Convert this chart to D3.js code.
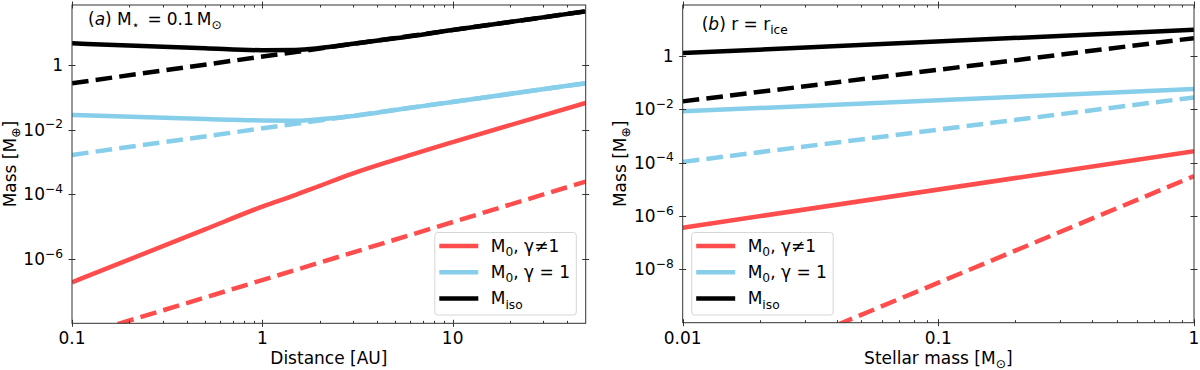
<!DOCTYPE html>
<html>
<head>
<meta charset="utf-8">
<script src="https://cdn.jsdelivr.net/npm/d3@7"></script>
<style>
  body { margin: 0; background: #fff; }
  text { font-family: "DejaVu Sans", sans-serif; fill: #000; }
</style>
</head>
<body>
<div id="chart"></div>
<script>
// ---- panel (a): M* = 0.1 Msun, mass vs distance [AU]
const distCurve = [0.1, 0.5, 1, 1.5, 2, 3, 5, 10, 50];
const distEnds = [0.1, 50];
const aRedSolid = [1.86e-7, 8.1e-6, 4.1e-5, 9.5e-5, 1.8e-4, 4.4e-4, 1.17e-3, 4.1e-3, 6.7e-2];
const aBlueSolid = [0.0284, 0.0211, 0.0191, 0.0187, 0.0209, 0.0263, 0.0406, 0.0718, 0.272];
const aBlackSolid = [4.69, 3.29, 2.87, 2.92, 3.33, 4.56, 6.7, 12.1, 45.7];
const aRedDashed = [3.5e-9, 2.45e-4];
const aBlueDashed = [1.64e-3, 0.27];
const aBlackDashed = [0.272, 45.7];

// ---- panel (b): r = r_ice, mass vs stellar mass [Msun]
const starMass = [0.01, 1];
const bRedSolid = [3.62e-7, 2.64e-4];
const bBlueSolid = [8.28e-3, 0.0569];
const bBlackSolid = [1.26, 9.38];
const bRedDashed = [3.2e-13, 3.1e-5];
const bBlueDashed = [1.06e-4, 0.0276];
const bBlackDashed = [0.0196, 4.59];

// tick values
const aXTicks = [0.1, 1, 10];
const aXTickLabels = ['0.1', '1', '10'];
const bXTicks = [0.01, 0.1, 1];
const bXTickLabels = ['0.01', '0.1', '1'];
const aYTicks = [1e-6, 1e-4, 1e-2, 1];
const bYTicks = [1e-8, 1e-6, 1e-4, 1e-2, 1];

const RED = '#ff4d4d', BLUE = '#87ceeb', BLACK = '#000';
const legendNames = [
  [['M'], ['0', 'sub'], [',  γ≠1']],
  [['M'], ['0', 'sub'], [',  γ = 1']],
  [['M'], ['iso', 'sub']]
];
const legendColors = [RED, BLUE, BLACK];

const FS = 17;
const LW = 4.5;
const W = 1200, H = 370;
const svg = d3.select('#chart').append('svg')
  .attr('width', W).attr('height', H);

// text with sub/superscripts and italics: parts are [string, kind, dx]
function rich(el, parts, size) {
  let cur = 0;
  parts.forEach(([str, kind, dx]) => {
    const off = kind === 'sub' ? size * 0.25 : kind === 'sup' ? -size * 0.42 : 0;
    const t = el.append('tspan').text(str).attr('dy', off - cur);
    if (dx) t.attr('dx', dx);
    if (kind === 'sub' || kind === 'sup') t.attr('font-size', size * 0.72);
    if (kind === 'it') t.attr('font-style', 'italic');
    cur = off;
  });
}

function expParts(v) {
  const e = Math.round(Math.log10(v));
  if (e === 0) return [['1']];
  return [['10'], [(e < 0 ? '−' : '') + Math.abs(e), 'sup']];
}

function panel(cfg) {
  const g = svg.append('g');
  const x = d3.scaleLog().domain(cfg.xDomain).range([cfg.left, cfg.right]);
  const y = d3.scaleLog().domain(cfg.yDomain).range([cfg.bottom, cfg.top]);

  const clipId = 'clip-' + cfg.id;
  g.append('clipPath').attr('id', clipId).append('rect')
    .attr('x', cfg.left).attr('y', cfg.top)
    .attr('width', cfg.right - cfg.left).attr('height', cfg.bottom - cfg.top);

  const plot = g.append('g').attr('clip-path', `url(#${clipId})`);
  const line = d3.line()
    .x(d => x(d[0])).y(d => y(d[1]))
    .curve(d3.curveMonotoneX);

  cfg.series.forEach(s => {
    plot.append('path')
      .datum(s.xs.map((v, i) => [v, s.ys[i]]))
      .attr('d', line)
      .attr('fill', 'none')
      .attr('stroke', s.color)
      .attr('stroke-width', LW)
      .attr('stroke-dasharray', s.dashed ? `${3.7 * LW},${1.6 * LW}` : null);
  });

  // minor x ticks
  const minor = [];
  const [x0, x1] = cfg.xDomain;
  for (let dec = Math.pow(10, Math.floor(Math.log10(x0))); dec < x1; dec *= 10) {
    for (let k = 2; k <= 9; k++) {
      const v = dec * k;
      if (v > x0 && v < x1) minor.push(v);
    }
  }

  const axes = g.append('g').attr('stroke', '#333').attr('stroke-width', 1);
  minor.forEach(v => {
    const px = Math.round(x(v)) + 0.5;
    axes.append('line').attr('x1', px).attr('x2', px).attr('y1', cfg.bottom).attr('y2', cfg.bottom - 2.5);
    axes.append('line').attr('x1', px).attr('x2', px).attr('y1', cfg.top).attr('y2', cfg.top + 2.5);
  });
  cfg.xTicks.forEach(v => {
    const px = Math.round(x(v)) + 0.5;
    axes.append('line').attr('x1', px).attr('x2', px).attr('y1', cfg.bottom + 3.5).attr('y2', cfg.bottom - 3.5);
    axes.append('line').attr('x1', px).attr('x2', px).attr('y1', cfg.top - 3.5).attr('y2', cfg.top + 3.5);
  });
  cfg.yTicks.forEach(v => {
    const py = Math.round(y(v)) + 0.5;
    axes.append('line').attr('x1', cfg.left - 3.5).attr('x2', cfg.left + 3.5).attr('y1', py).attr('y2', py);
    axes.append('line').attr('x1', cfg.right - 3.5).attr('x2', cfg.right + 3.5).attr('y1', py).attr('y2', py);
  });

  axes.append('rect')
    .attr('x', cfg.left).attr('y', cfg.top)
    .attr('width', cfg.right - cfg.left).attr('height', cfg.bottom - cfg.top)
    .attr('fill', 'none');

  // tick labels
  cfg.xTicks.forEach((v, i) => {
    g.append('text').attr('x', x(v)).attr('y', cfg.bottom + 21)
      .attr('text-anchor', 'middle').attr('font-size', FS)
      .text(cfg.xTickLabels[i]);
  });
  cfg.yTicks.forEach(v => {
    const t = g.append('text').attr('x', cfg.left - 9).attr('y', y(v) + 6)
      .attr('text-anchor', 'end').attr('font-size', FS);
    rich(t, expParts(v), FS);
  });

  // axis titles
  const xl = g.append('text').attr('x', (cfg.left + cfg.right) / 2).attr('y', 364)
    .attr('text-anchor', 'middle').attr('font-size', FS);
  rich(xl, cfg.xLabel, FS);
  const yl = g.append('text')
    .attr('transform', `translate(${cfg.yLabelX},${(cfg.top + cfg.bottom) / 2}) rotate(-90)`)
    .attr('text-anchor', 'middle').attr('font-size', FS);
  rich(yl, [['Mass [M'], ['⊕', 'sub'], [']']], FS);

  // panel annotation
  const ann = g.append('text').attr('x', cfg.annX).attr('y', cfg.annY).attr('font-size', FS);
  rich(ann, cfg.annotation, FS);

  // legend
  const lg = g.append('g');
  lg.append('rect')
    .attr('x', cfg.legX).attr('y', 232.5)
    .attr('width', 141.5).attr('height', 82.5)
    .attr('rx', 3)
    .attr('fill', '#fff').attr('fill-opacity', 0.8)
    .attr('stroke', '#d6d6d6');
  legendNames.forEach((name, i) => {
    const ly = 246 + i * 26.2;
    lg.append('line')
      .attr('x1', cfg.legX + 4.5).attr('x2', cfg.legX + 43.5)
      .attr('y1', ly).attr('y2', ly)
      .attr('stroke', legendColors[i]).attr('stroke-width', LW);
    const t = lg.append('text').attr('x', cfg.legX + 56).attr('y', ly + 6).attr('font-size', FS);
    rich(t, name, FS);
  });
}

panel({
  id: 'a',
  left: 72, right: 585.7, top: 5, bottom: 323.3,
  xDomain: [0.1, 50], yDomain: [1e-8, 72],
  xTicks: aXTicks, xTickLabels: aXTickLabels, yTicks: aYTicks,
  xLabel: [['Distance [AU]']],
  yLabelX: 16,
  annX: 88, annY: 24.5,
  annotation: [['('], ['a', 'it'], [') M'], ['⋆', 'sub'], ['=', null, 8], ['0.1', null, 5], ['M', null, 3], ['⊙', 'sub']],
  legX: 434.8,
  series: [
    { xs: distCurve, ys: aRedSolid, color: RED },
    { xs: distEnds, ys: aRedDashed, color: RED, dashed: true },
    { xs: distCurve, ys: aBlueSolid, color: BLUE },
    { xs: distEnds, ys: aBlueDashed, color: BLUE, dashed: true },
    { xs: distCurve, ys: aBlackSolid, color: BLACK },
    { xs: distEnds, ys: aBlackDashed, color: BLACK, dashed: true }
  ]
});

panel({
  id: 'b',
  left: 682.7, right: 1194, top: 5, bottom: 322.7,
  xDomain: [0.01, 1], yDomain: [1e-10, 80],
  xTicks: bXTicks, xTickLabels: bXTickLabels, yTicks: bYTicks,
  xLabel: [['Stellar mass [M'], ['⊙', 'sub'], [']']],
  yLabelX: 626,
  annX: 701.7, annY: 30,
  annotation: [['('], ['b', 'it'], [') r = r'], ['ice', 'sub']],
  legX: 691.7,
  series: [
    { xs: starMass, ys: bRedSolid, color: RED },
    { xs: starMass, ys: bRedDashed, color: RED, dashed: true },
    { xs: starMass, ys: bBlueSolid, color: BLUE },
    { xs: starMass, ys: bBlueDashed, color: BLUE, dashed: true },
    { xs: starMass, ys: bBlackSolid, color: BLACK },
    { xs: starMass, ys: bBlackDashed, color: BLACK, dashed: true }
  ]
});
</script>
</body>
</html>
